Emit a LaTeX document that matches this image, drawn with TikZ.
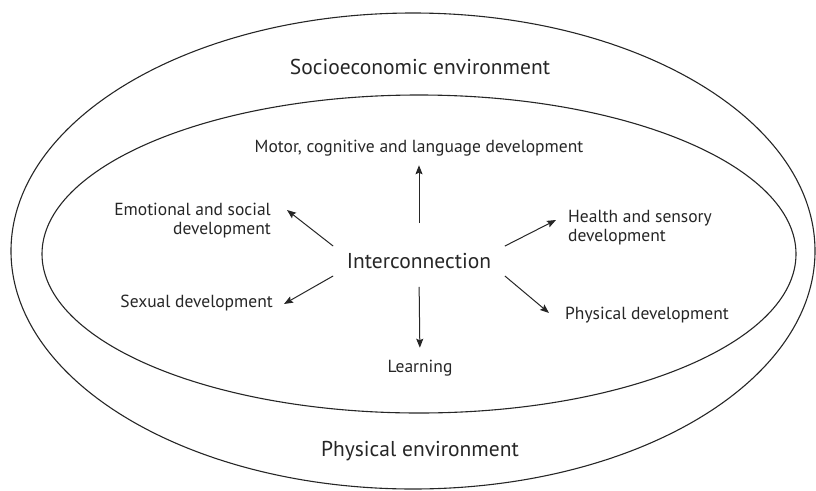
\documentclass[tikz,border=0pt]{standalone}
\usepackage{fontspec}
\setmainfont{PT Sans}
\usetikzlibrary{arrows.meta}
\definecolor{ink}{HTML}{262626}
\tikzset{
  ring/.style={draw=ink, line width=1.1pt},
  lbl/.style={inner sep=0pt, text=ink, font=\fontsize{17.5}{19}\selectfont},
  big/.style={inner sep=0pt, text=ink, font=\fontsize{21.5}{25}\selectfont},
  arr/.style={draw=ink, line width=1pt, -{Stealth[length=9pt,width=7pt,inset=1.5pt]}}
}
\begin{document}
\begin{tikzpicture}[x=1pt,y=-1pt]
\useasboundingbox (0,0) rectangle (816,490);
\draw[ring] (413,251) ellipse [x radius=402, y radius=238];
\draw[ring] (419,254) ellipse [x radius=377, y radius=159];

\node[big] (socio) at (420,67) {Socioeconomic environment};
\node[big] (phyenv) at (420,451) {Physical environment};
\node[big, inner xsep=13.5pt, inner ysep=7pt] (ic) at (419,261) {Interconnection};

\node[lbl] (motor) at (419,148) {Motor, cognitive and language development};
\node[lbl, align=right, anchor=east] (emo) at (271,221) {Emotional and social\\development};
\node[lbl, align=left, anchor=west] (health) at (568,228) {Health and sensory\\development};
\node[lbl, anchor=east] (sex) at (273,303) {Sexual development};
\node[lbl, anchor=west] (phydev) at (565,315) {Physical development};
\node[lbl] (learn) at (420,368) {Learning};

\coordinate (tipnw) at (287,210);
\coordinate (tipne) at (556,220);
\coordinate (tipsw) at (284,304);
\coordinate (tipse) at (549,313);

\draw[arr, shorten <=23pt, shorten >=9pt] (ic.north) -- (motor.south);
\draw[arr, shorten <=11pt, shorten >=12pt] (ic.south) -- (learn.north);
\draw[arr] (ic.north west) -- (tipnw);
\draw[arr] (ic.north east) -- (tipne);
\draw[arr] (ic.south west) -- (tipsw);
\draw[arr] (ic.south east) -- (tipse);
\end{tikzpicture}
\end{document}
